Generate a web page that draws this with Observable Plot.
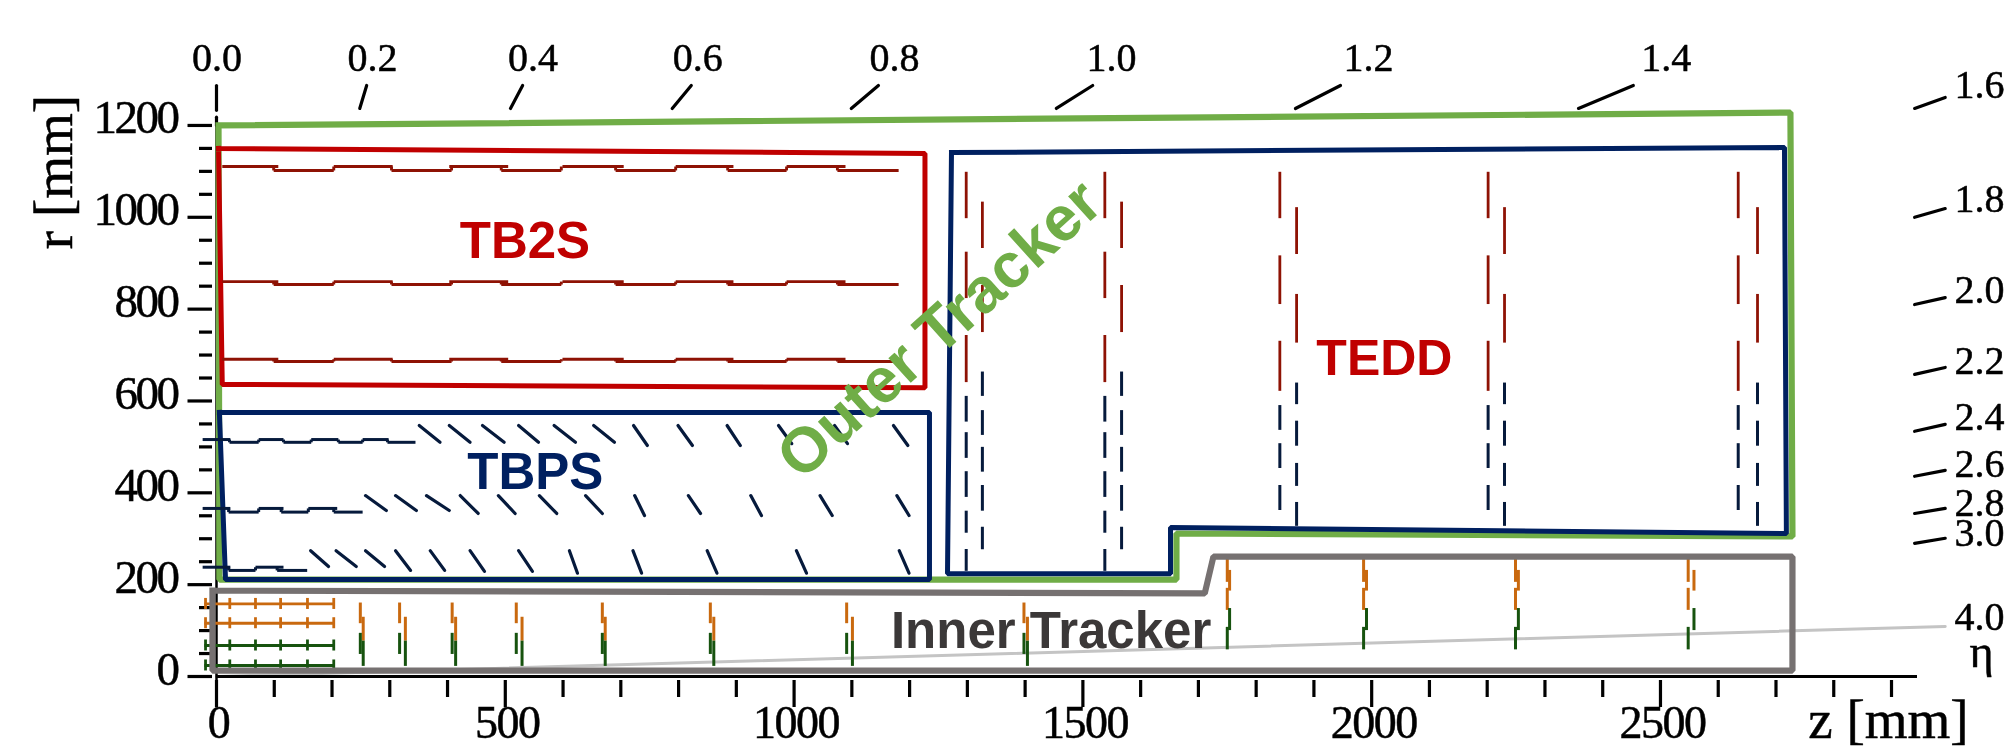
<!DOCTYPE html>
<html><head><meta charset="utf-8">
<script src="https://cdn.jsdelivr.net/npm/d3@7"></script>
<script src="https://cdn.jsdelivr.net/npm/@observablehq/plot@0.6"></script>
<style>
html,body{margin:0;padding:0;background:#fff}
svg{display:block;filter:blur(0.45px)}
g[aria-label="x-axis tick label"] text{letter-spacing:-1.5px;stroke:#000;stroke-width:.5px}
g[aria-label="y-axis tick label"] text{letter-spacing:-2.5px;stroke:#000;stroke-width:.5px}
g[aria-label="x-axis tick"] path,g[aria-label="y-axis tick"] path{stroke-width:3.2px}
</style></head><body>
<script>
// axis ticks (mm)
const zMajor=[0,500,1000,1500,2000,2500];
const zMinor=[100,200,300,400,600,700,800,900,1100,1200,1300,1400,1600,1700,1800,1900,2100,2200,2300,2400,2600,2700,2800,2900];
const rMajor=[0,200,400,600,800,1000,1200];
const rMinor=[50,100,150,250,300,350,450,500,550,650,700,750,850,900,950,1050,1100,1150];
// eta scale: label, label position, tick segment [z1,r1,z2,r2]
const etaTop=["0.0","0.2","0.4","0.6","0.8","1.0","1.2","1.4"];
const etaTopZ=[1,270,548,833,1174,1549.5,1994.5,2510];
const etaSide=["1.6","1.8","2.0","2.2","2.4","2.6","2.8","3.0","4.0"];
const etaSideR=[1259,1010.5,814,658,536,435.5,350.6,284,102];
const etaTicks=[[0,1287,0,1233],[0,1218,0,1200],[260,1287,248,1237],[530,1287,509,1237],[822,1287,789,1237],[1146,1287,1099,1237],[1517,1287,1454,1237],[1946,1287,1868,1237],[2453,1287,2358,1237],
[2993,1261,2940,1237],[2993,1019,2940,1000],[2993,825,2940,810],[2993,673,2940,658],[2993,549,2940,534],[2993,449,2940,436],[2993,366,2940,355],[2993,301,2940,290]];
const eta4Line=[[0,0],[2993,109]];
// region outlines [z,r]
const outerBox=[[3.5,1200],[2725,1228],[2728.5,305],[1662,311.4],[1662,211],[5,211],[3.5,1200]];
const tb2sBox=[[3.5,1150],[1226.6,1139],[1226.6,629],[10,636],[3.5,1150]];
const tbpsBox=[[5,575],[1234.4,575],[1234.4,211],[15.6,211],[5,575]];
const teddBox=[[1272.5,1141],[2714.7,1152],[2718,311.4],[1651.7,324.5],[1651.7,224],[1265.6,224],[1272.5,1141]];
const innerBox=[[-7,187],[1711,181],[1726,261],[2728.5,261],[2728.5,13],[-7,13],[-7,187]];
// TB2S stepped layers
const tb2sHighZ=[[10,107],[203,305],[403,505],[599,705],[795,895],[987,1089]];
const tb2sLowZ=[[99,203],[303,407],[493,597],[691,795],[885,987],[1075,1181]];
const tb2sLayers=[[1110.6,1102],[860,853.6],[691,686]];
// TBPS flat layers [z1,z2,r]
const tbpsFlat=[[[-24,24,516],[22.5,73,510],[73,116,516],[116,164,510],[164,211,516],[211,253,510],[253,298,516],[296,344.5,510]],
[[-24,24,366],[21,73,358],[73,116,366],[112,159,358],[159,209,366],[203,253,358]],
[[-24,24,238],[21,67.5,231],[67.5,116,238],[105,157,231]]];
// TBPS tilted modules [z1,r1,z2,r2]
const tbpsTilted=[[351,546.6,387,510],[403,546.6,439,510],[460.5,546.6,498,510],[523,546.6,557.5,510],[584.5,546.6,621.5,510],[653,546.6,689,510],[722,546.6,746,503],[799,546.6,824,503],[884,546.6,907,503],[973,546.6,996,507],[1070,546.6,1092.5,507],[1172,546.6,1197,503],
[258,394,294,361.5],[310,394,346,361.5],[363.6,394,403,361.5],[422,394,453,355],[488,394,517,355],[559,394,589,355],[639,394,668,355],[724,394,741,350.6],[817,394,838,355],[925,394,943.5,350.6],[1045,394,1066,350.6],[1178,394,1199,350.6],
[163,274,194,239.5],[207,274,242,239.5],[258,274,291,239.5],[310,274,336,231],[370,274,395,231],[439,274,464,229],[523,274,547,229],[611,274,625,225],[721,274,736,225],[849.5,274,866.5,225],[1004,274,1021.5,225],[1182,274,1199,225]];
// TEDD disks
const teddFrontZ=[1298,1538,1841,2201.6,2634.6];
const teddBackZ=[1326,1567,1870,2230,2668];
const frontRedA=[[1098,997],[924,823],[742.6,640]];
const backRedA=[[1033,932],[851.5,749]];
const frontNavyA=[[610,554],[531,475],[446,390],[360,312],[276.6,229]];
const backNavyA=[[663,610],[579,525],[499,445],[416,360],[325,276]];
const frontRedB=[[1098,997],[916,810],[730,621]];
const backRedB=[[1021,919],[832,726]];
const frontNavyB=[[590,536],[507,453],[416,361.5]];
const backNavyB=[[639,592],[556,501.5],[464,414],[379,327]];
// Inner tracker barrel
const itBarrelOrange=[158,116];
const itBarrelGreen=[67.5,24];
const itBarrelTicks=[-19,23,67.5,111,157.5,203];
const itBarrelSpan=[-21,203];
// Inner tracker small disks
const tfpxFrontZ=[249,317,408,519,668,855,1091,1398];
const tfpxBackZ=[254,327,414,529,673,861,1101,1404];
const tfpxFrontOrange=[[160,115]];
const tfpxBackOrange=[[129,77]];
const tfpxFrontGreen=[[94,48]];
const tfpxBackGreen=[[77,22]];
// Inner tracker large disks
const tepxFrontZ=[1750,1986,2249,2548];
const tepxBackZ=[1754,1991,2254,2558];
const tepxFrontOrange=[[255,205],[192,144]];
const tepxBackOrange=[[231,186]];
const tepxFrontGreen=[[107,58]];
const tepxBackGreen=[[148,100]];

const RED="#C00000",NAVY="#002060",GREEN="#70AD47",GRAY="#767171";
const DRED="#8E1204",DNAVY="#061A3C",ORANGE="#C9690F",DGREEN="#17530F";
const serif="Liberation Serif",sans="Liberation Sans";

const vert=(zs,spans)=>zs.flatMap(z=>spans.map(s=>[z,s[0],s[1]]));
const vRule=(rows,stroke,w)=>Plot.ruleX(rows,{x:d=>d[0],y1:d=>d[1],y2:d=>d[2],stroke,strokeWidth:w});
const box=(pts,stroke,w)=>Plot.line(pts,{stroke,strokeWidth:w,strokeLinejoin:"miter",strokeLinecap:"square",curve:"linear"});
const seg=(rows,stroke,w,extra={})=>Plot.link(rows,{x1:d=>d[0],y1:d=>d[1],x2:d=>d[2],y2:d=>d[3],stroke,strokeWidth:w,...extra});

const tb2sRows=tb2sLayers.flatMap(([hi,lo])=>[
  ...tb2sHighZ.map(([a,b])=>[a,hi,b,hi]),
  ...tb2sLowZ.map(([a,b])=>[a,lo,b,lo]),
  ...tb2sLowZ.map(([a])=>[a,hi,a,lo]),
  ...tb2sLowZ.slice(0,-1).map(([,b])=>[b,hi,b,lo])]);
const flatRows=tbpsFlat.flatMap(layer=>layer.flatMap(([a,b,r],i)=>{
  const prev=layer[i-1];
  return prev?[[a,r,b,r],[a,prev[2],a,r]]:[[a,r,b,r]];
}));
const barrelH=itBarrelOrange.map(r=>[itBarrelSpan[0],r,itBarrelSpan[1],r]);
const barrelG=itBarrelGreen.map(r=>[itBarrelSpan[0],r,itBarrelSpan[1],r]);
const barrelTick=rs=>rs.flatMap(r=>itBarrelTicks.map(z=>[z,r+12,r-12]));

const label=(t,z,r,font,size,fill,o={})=>Plot.text([t],{x:()=>z,y:()=>r,text:d=>d,fontFamily:font,fontSize:size,fill,lineAnchor:"bottom",textAnchor:"middle",...o});
const ink={stroke:"#000",strokeWidth:0.5};

const plot=Plot.plot({
  width:2008,height:755,
  marginLeft:216,marginRight:91,marginTop:85,marginBottom:79,
  x:{domain:[0,2945],axis:null},
  y:{domain:[0,1287],axis:null},
  style:{background:"#fff"},
  marks:[
    Plot.line(eta4Line,{stroke:"#c4c4c4",strokeWidth:3}),
    Plot.ruleY([0],{x1:0,x2:2945,stroke:"#000",strokeWidth:3}),
    Plot.ruleX([0],{y1:-68,y2:1200,stroke:"#000",strokeWidth:2.5}),
    seg(etaTicks,"#000",3.2,{strokeLinecap:"round"}),
    Plot.axisX({ticks:zMajor,text:null,label:null,tickSize:27,dy:4,stroke:"#000"}),
    Plot.axisX({ticks:zMinor,text:null,label:null,tickSize:17,dy:4,stroke:"#000"}),
    Plot.axisX({ticks:zMajor,tickSize:0,tickPadding:29,dx:2,label:null,fontSize:46,fontFamily:serif,fill:"#000",tickFormat:d=>String(d)}),
    Plot.axisY({ticks:rMajor,text:null,label:null,tickSize:24.5,dx:-4,stroke:"#000"}),
    Plot.axisY({ticks:rMinor,text:null,label:null,tickSize:13,dx:-4,stroke:"#000"}),
    Plot.axisY({ticks:rMajor,tickSize:0,tickPadding:39,dy:-7,label:null,fontSize:47,fontFamily:serif,fill:"#000",tickFormat:d=>String(d)}),

    box(outerBox,GREEN,6.2),
    box(tb2sBox,RED,5),
    box(tbpsBox,NAVY,5),
    box(teddBox,NAVY,5),

    seg(tb2sRows,DRED,2.9),
    seg(flatRows,DNAVY,3),
    seg(tbpsTilted,DNAVY,3.2,{strokeLinecap:"round"}),

    vRule(vert(teddFrontZ.slice(0,2),frontRedA),DRED,2.8),
    vRule(vert(teddBackZ.slice(0,2),backRedA),DRED,2.8),
    vRule(vert(teddFrontZ.slice(0,2),frontNavyA),DNAVY,3),
    vRule(vert(teddBackZ.slice(0,2),backNavyA),DNAVY,3),
    vRule(vert(teddFrontZ.slice(2),frontRedB),DRED,2.8),
    vRule(vert(teddBackZ.slice(2),backRedB),DRED,2.8),
    vRule(vert(teddFrontZ.slice(2),frontNavyB),DNAVY,3),
    vRule(vert(teddBackZ.slice(2),backNavyB),DNAVY,3),

    seg(barrelH,ORANGE,2.8),
    seg(barrelG,DGREEN,2.8),
    vRule(barrelTick(itBarrelOrange),ORANGE,2.8),
    vRule(barrelTick(itBarrelGreen),DGREEN,2.8),
    vRule(vert(tfpxFrontZ,tfpxFrontOrange),ORANGE,3),
    vRule(vert(tfpxBackZ,tfpxBackOrange),ORANGE,3),
    vRule(vert(tfpxFrontZ,tfpxFrontGreen),DGREEN,3),
    vRule(vert(tfpxBackZ,tfpxBackGreen),DGREEN,3),
    vRule(vert(tepxFrontZ,tepxFrontOrange),ORANGE,3),
    vRule(vert(tepxBackZ,tepxBackOrange),ORANGE,3),
    vRule(vert(tepxFrontZ,tepxFrontGreen),DGREEN,3),
    vRule(vert(tepxBackZ,tepxBackGreen),DGREEN,3),

    box(innerBox,GRAY,6.2),

    Plot.text(etaTop,{x:(d,i)=>etaTopZ[i],y:()=>1318,text:d=>d,fontFamily:serif,fontSize:40,fill:"#000",lineAnchor:"bottom",textAnchor:"middle",...ink}),
    Plot.text(etaSide,{x:()=>3009,y:(d,i)=>etaSideR[i],text:d=>d,fontFamily:serif,fontSize:40,fill:"#000",lineAnchor:"bottom",textAnchor:"start",...ink}),
    label("η",3056,19.6,serif,46,"#000",ink),
    label("r [mm]",-251,1098.6,serif,55,"#000",{rotate:-90,...ink}),
    label("z [mm]",2756,-133,serif,55,"#000",{textAnchor:"start",...ink}),

    label("TB2S",534,912,sans,51,RED,{fontWeight:"bold"}),
    label("TBPS",552,409,sans,51,NAVY,{fontWeight:"bold"}),
    label("TEDD",2022,656,sans,50,RED,{fontWeight:"bold"}),
    label("Inner Tracker",1445,61,sans,51,"#3B3838",{fontWeight:"bold"}),
    label("Outer Tracker",1252,755,sans,63,GREEN,{fontWeight:"bold",rotate:-42,lineAnchor:"middle"})
  ]
});
document.body.appendChild(plot);
</script>
</body></html>
